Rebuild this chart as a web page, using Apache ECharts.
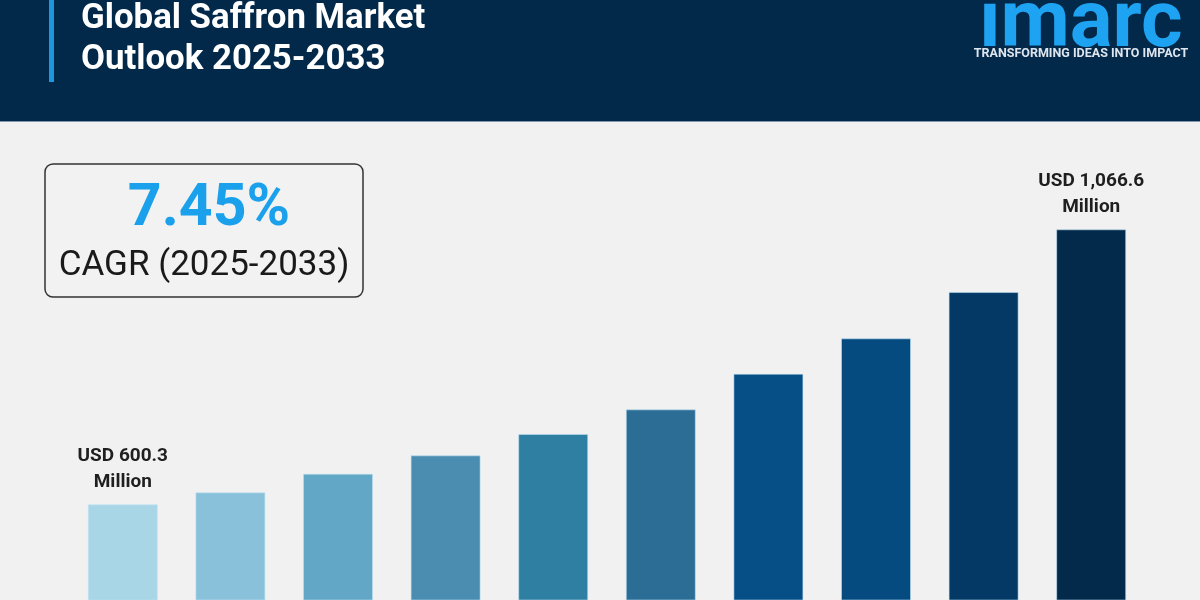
<!DOCTYPE html>
<html>
<head>
<meta charset="utf-8">
<script src="https://cdn.jsdelivr.net/npm/echarts@6/dist/echarts.min.js"></script>
<style>
  html, body { margin: 0; padding: 0; background: #f1f1f1; }
  #chart { width: 1200px; height: 600px; }
</style>
</head>
<body>
<div id="chart"></div>
<script>
// ---- Data ----
const years = ['2024', '2025', '2026', '2027', '2028', '2029', '2030', '2031', '2032', '2033'];
const marketValues = [600.3, 620.6, 652.1, 683.3, 719.5, 761.3, 821.7, 881.7, 960.2, 1066.6];
const labeledIndices = [0, 9];
const barColors = ['#a9d6e7', '#8ac1da', '#63a7c6', '#4a8db1', '#2f7fa3', '#2c6d95', '#064f86', '#054b7f', '#043966', '#03294b'];
const titleLines = ['Global Saffron Market', 'Outlook 2025-2033'];
const cagrValue = '7.45%';
const cagrText = 'CAGR (2025-2033)';
const logoText = 'imarc';
const taglineText = 'TRANSFORMING IDEAS INTO IMPACT';

function fmt(v) {
  return v.toLocaleString('en-US', { minimumFractionDigits: 1, maximumFractionDigits: 1 });
}

const chart = echarts.init(document.getElementById('chart'), null, { renderer: 'canvas' });

const seriesData = marketValues.map((v, i) => ({
  value: v,
  itemStyle: { color: barColors[i] },
  label: {
    show: labeledIndices.indexOf(i) >= 0,
    position: 'top',
    distance: 9,
    formatter: () => 'USD ' + fmt(v) + '\nMillion',
    fontFamily: 'Roboto',
    fontWeight: 700,
    fontSize: 19,
    lineHeight: 26,
    color: '#1f1f1f'
  }
}));

const option = {
  backgroundColor: '#f1f1f1',
  animation: false,
  grid: { left: 69, right: 55, top: 130, bottom: 0 },
  xAxis: {
    type: 'category',
    data: years,
    show: false
  },
  yAxis: {
    type: 'value',
    min: 438,
    max: 1235,
    show: false
  },
  series: [{
    type: 'bar',
    barWidth: 70,
    data: seriesData,
    itemStyle: { borderColor: 'rgba(190,225,245,0.55)', borderWidth: 1 }
  }],
  graphic: [
    { type: 'rect', z: 10, shape: { x: 0, y: 0, width: 1200, height: 121 }, style: { fill: '#03294a' } },
    { type: 'rect', z: 10, shape: { x: 0, y: 121, width: 1200, height: 1 }, style: { fill: '#7f98ae' } },
    { type: 'rect', z: 11, shape: { x: 49, y: 0, width: 5, height: 82 }, style: { fill: '#1e96e0' } },
    { type: 'text', z: 11, style: { text: titleLines[0], x: 81, y: 19, font: '700 34.8px Roboto', fill: '#ffffff', textAlign: 'left', textVerticalAlign: 'middle' } },
    { type: 'text', z: 11, style: { text: titleLines[1], x: 81, y: 60, font: '700 34.8px Roboto', fill: '#ffffff', textAlign: 'left', textVerticalAlign: 'middle' } },
    { type: 'text', z: 11, style: { text: logoText, x: 1081, y: 26, font: '700 80px Roboto', fill: '#1ea3f2', textAlign: 'center', textVerticalAlign: 'middle' } },
    { type: 'text', z: 11, style: { text: taglineText, x: 1081, y: 54, font: '700 12.5px Roboto', fill: '#dde5ee', textAlign: 'center', textVerticalAlign: 'middle' } },
    { type: 'rect', z: 11, shape: { x: 45, y: 164, width: 318, height: 133, r: 8 }, style: { fill: '#f2f2f2', stroke: '#333333', lineWidth: 1.5 } },
    { type: 'text', z: 12, style: { text: cagrValue, x: 209, y: 210, font: '700 59px Roboto', fill: '#1ba1ec', textAlign: 'center', textVerticalAlign: 'middle' } },
    { type: 'text', z: 12, style: { text: cagrText, x: 204, y: 266, font: '400 35px Roboto', fill: '#1a1a1a', textAlign: 'center', textVerticalAlign: 'middle' } }
  ]
};

chart.setOption(option);
</script>
</body>
</html>
